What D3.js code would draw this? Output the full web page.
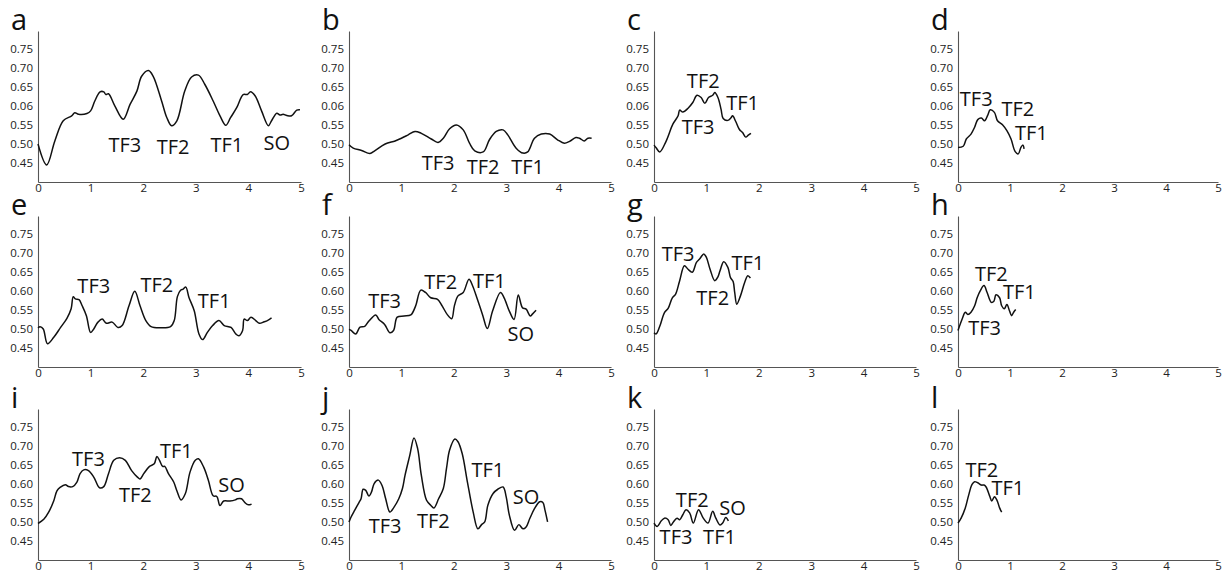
<!DOCTYPE html>
<html>
<head>
<meta charset="utf-8">
<script src="https://cdn.jsdelivr.net/npm/d3@7"></script>
<style>
  body { margin: 0; background: #fff; }
  svg { display: block; }
  text { font-family: "Open Sans", sans-serif; }
</style>
</head>
<body>
<div class="canvas"></div>
<script>
const letters = ["a", "b", "c", "d", "e", "f", "g", "h", "i", "j", "k", "l"];
const yTicks = [0.45, 0.5, 0.55, 0.6, 0.65, 0.7, 0.75];
const yTickLabelsTop = ["0.45", "0.50", "0.55", "0.06", "0.65", "0.70", "0.75"];
const yTickLabels = ["0.45", "0.50", "0.55", "0.60", "0.65", "0.70", "0.75"];
const xTicks = [0, 1, 2, 3, 4, 5];

// [time, value]
const a = [[0,0.50],[0.165,0.445],[0.32,0.508],[0.48,0.561],[0.64,0.574],[0.70,0.582],[0.77,0.578],[0.93,0.580],[1.0,0.587],[1.08,0.613],[1.18,0.637],[1.25,0.637],[1.29,0.630],[1.34,0.632],[1.46,0.600],[1.62,0.565],[1.75,0.604],[1.88,0.639],[1.97,0.678],[2.10,0.693],[2.19,0.678],[2.35,0.613],[2.45,0.569],[2.54,0.548],[2.64,0.561],[2.79,0.639],[2.92,0.676],[3.05,0.681],[3.17,0.657],[3.33,0.613],[3.46,0.574],[3.57,0.549],[3.66,0.569],[3.78,0.596],[3.90,0.630],[3.98,0.630],[4.04,0.637],[4.13,0.626],[4.25,0.587],[4.38,0.548],[4.44,0.561],[4.54,0.581],[4.60,0.576],[4.66,0.578],[4.73,0.575],[4.82,0.574],[4.92,0.589],[4.98,0.590]];
const b = [[0,0.498],[0.08,0.489],[0.24,0.483],[0.40,0.475],[0.49,0.482],[0.69,0.500],[0.88,0.508],[1.0,0.515],[1.13,0.524],[1.26,0.533],[1.38,0.528],[1.57,0.513],[1.70,0.504],[1.80,0.515],[1.92,0.540],[2.05,0.550],[2.18,0.537],[2.30,0.502],[2.40,0.482],[2.56,0.479],[2.68,0.511],[2.81,0.533],[2.94,0.537],[3.03,0.524],[3.19,0.489],[3.32,0.476],[3.41,0.479],[3.54,0.515],[3.67,0.526],[3.83,0.526],[3.98,0.511],[4.11,0.502],[4.21,0.507],[4.33,0.517],[4.40,0.515],[4.49,0.508],[4.56,0.515],[4.63,0.515]];
const c = [[0,0.497],[0.04,0.490],[0.11,0.479],[0.23,0.507],[0.36,0.552],[0.46,0.574],[0.49,0.589],[0.55,0.584],[0.65,0.594],[0.74,0.609],[0.82,0.628],[0.90,0.622],[0.97,0.607],[1.04,0.622],[1.12,0.628],[1.16,0.635],[1.22,0.622],[1.28,0.591],[1.32,0.567],[1.41,0.562],[1.47,0.569],[1.50,0.574],[1.56,0.559],[1.63,0.538],[1.69,0.530],[1.75,0.518],[1.80,0.523],[1.85,0.528]];
const d = [[0,0.491],[0.10,0.494],[0.16,0.513],[0.25,0.526],[0.32,0.544],[0.38,0.564],[0.45,0.568],[0.51,0.561],[0.57,0.575],[0.62,0.590],[0.70,0.583],[0.76,0.561],[0.86,0.550],[0.94,0.535],[1.02,0.513],[1.10,0.480],[1.16,0.474],[1.21,0.491],[1.25,0.497],[1.27,0.487]];
const e = [[0,0.503],[0.04,0.506],[0.10,0.500],[0.18,0.461],[0.30,0.478],[0.43,0.504],[0.55,0.528],[0.63,0.553],[0.67,0.585],[0.71,0.579],[0.78,0.577],[0.84,0.561],[0.92,0.535],[1.0,0.491],[1.06,0.500],[1.14,0.518],[1.22,0.526],[1.30,0.515],[1.41,0.518],[1.52,0.504],[1.60,0.509],[1.73,0.561],[1.84,0.599],[1.94,0.561],[2.05,0.522],[2.15,0.506],[2.33,0.503],[2.52,0.506],[2.59,0.522],[2.65,0.585],[2.71,0.602],[2.76,0.605],[2.81,0.610],[2.87,0.583],[2.97,0.548],[3.06,0.487],[3.13,0.472],[3.22,0.491],[3.32,0.509],[3.44,0.522],[3.54,0.509],[3.67,0.504],[3.76,0.487],[3.82,0.482],[3.89,0.496],[3.92,0.526],[3.98,0.522],[4.05,0.531],[4.14,0.522],[4.21,0.515],[4.30,0.519],[4.36,0.522],[4.44,0.529]];
const f = [[0,0.499],[0.04,0.496],[0.13,0.487],[0.21,0.505],[0.30,0.507],[0.38,0.521],[0.51,0.537],[0.57,0.525],[0.68,0.512],[0.78,0.490],[0.85,0.496],[0.92,0.531],[1.05,0.534],[1.18,0.537],[1.27,0.560],[1.37,0.602],[1.46,0.596],[1.56,0.582],[1.69,0.578],[1.78,0.560],[1.88,0.537],[1.96,0.527],[2.01,0.560],[2.08,0.587],[2.18,0.596],[2.29,0.631],[2.36,0.613],[2.45,0.578],[2.55,0.537],[2.64,0.501],[2.74,0.547],[2.89,0.596],[2.96,0.582],[3.06,0.547],[3.15,0.525],[3.23,0.589],[3.31,0.556],[3.38,0.552],[3.46,0.534],[3.50,0.539],[3.57,0.549]];
const g = [[0,0.490],[0.04,0.487],[0.11,0.507],[0.20,0.543],[0.27,0.554],[0.35,0.582],[0.41,0.591],[0.49,0.627],[0.58,0.666],[0.65,0.657],[0.73,0.649],[0.81,0.675],[0.87,0.684],[0.95,0.697],[1.0,0.688],[1.07,0.657],[1.16,0.627],[1.22,0.637],[1.26,0.653],[1.33,0.677],[1.41,0.662],[1.46,0.635],[1.51,0.625],[1.54,0.596],[1.58,0.565],[1.65,0.587],[1.73,0.622],[1.79,0.640],[1.84,0.634]];
const h = [[0,0.496],[0.08,0.526],[0.14,0.544],[0.19,0.538],[0.25,0.544],[0.32,0.561],[0.37,0.583],[0.43,0.601],[0.50,0.614],[0.56,0.596],[0.64,0.570],[0.69,0.573],[0.73,0.590],[0.80,0.582],[0.84,0.561],[0.89,0.553],[0.94,0.564],[0.99,0.548],[1.03,0.535],[1.07,0.544],[1.11,0.551]];
const i = [[0,0.496],[0.11,0.507],[0.20,0.525],[0.30,0.556],[0.36,0.582],[0.42,0.591],[0.52,0.598],[0.58,0.593],[0.66,0.593],[0.74,0.605],[0.80,0.627],[0.87,0.637],[0.96,0.635],[1.06,0.618],[1.17,0.590],[1.25,0.593],[1.34,0.627],[1.44,0.662],[1.55,0.669],[1.66,0.662],[1.78,0.635],[1.89,0.618],[1.94,0.613],[2.01,0.627],[2.12,0.646],[2.21,0.653],[2.26,0.672],[2.31,0.662],[2.37,0.646],[2.41,0.646],[2.48,0.627],[2.58,0.605],[2.64,0.582],[2.72,0.558],[2.80,0.574],[2.89,0.631],[2.99,0.662],[3.05,0.666],[3.15,0.644],[3.24,0.609],[3.33,0.569],[3.40,0.567],[3.46,0.543],[3.53,0.555],[3.65,0.555],[3.75,0.558],[3.79,0.561],[3.87,0.561],[3.94,0.550],[4.00,0.545],[4.06,0.547]];
const j = [[0,0.500],[0.04,0.513],[0.11,0.531],[0.19,0.551],[0.23,0.561],[0.27,0.586],[0.32,0.583],[0.38,0.568],[0.43,0.579],[0.48,0.601],[0.56,0.610],[0.63,0.596],[0.70,0.561],[0.78,0.526],[0.86,0.539],[0.95,0.561],[1.02,0.588],[1.07,0.623],[1.16,0.675],[1.24,0.721],[1.31,0.693],[1.38,0.623],[1.48,0.557],[1.56,0.544],[1.62,0.537],[1.71,0.561],[1.80,0.588],[1.86,0.640],[1.92,0.689],[2.02,0.718],[2.08,0.711],[2.16,0.680],[2.26,0.605],[2.37,0.526],[2.46,0.482],[2.53,0.493],[2.59,0.500],[2.65,0.544],[2.75,0.575],[2.84,0.586],[2.94,0.592],[3.00,0.566],[3.06,0.518],[3.16,0.478],[3.24,0.493],[3.32,0.482],[3.38,0.487],[3.45,0.509],[3.54,0.535],[3.64,0.553],[3.70,0.551],[3.74,0.531],[3.79,0.500]];
const k = [[0,0.497],[0.06,0.488],[0.14,0.503],[0.20,0.510],[0.27,0.506],[0.32,0.491],[0.37,0.500],[0.44,0.510],[0.49,0.506],[0.55,0.519],[0.61,0.532],[0.68,0.524],[0.75,0.497],[0.85,0.532],[0.94,0.510],[1.03,0.497],[1.12,0.528],[1.18,0.510],[1.26,0.492],[1.31,0.497],[1.37,0.512],[1.42,0.503]];
const l = [[0,0.497],[0.06,0.510],[0.14,0.537],[0.20,0.568],[0.27,0.599],[0.32,0.606],[0.38,0.603],[0.45,0.597],[0.50,0.597],[0.54,0.592],[0.61,0.568],[0.65,0.555],[0.70,0.566],[0.75,0.557],[0.80,0.537],[0.84,0.526]];

// annotation text placed at [time, value] (centre of the word)
const aNotes = [["TF3",1.65,0.498],["TF2",2.57,0.493],["TF1",3.59,0.498],["SO",4.54,0.504]];
const bNotes = [["TF3",1.70,0.450],["TF2",2.56,0.441],["TF1",3.41,0.441]];
const cNotes = [["TF2",0.94,0.666],["TF1",1.69,0.609],["TF3",0.84,0.545]];
const dNotes = [["TF3",0.35,0.618],["TF2",1.15,0.592],["TF1",1.41,0.529]];
const eNotes = [["TF3",1.06,0.614],["TF2",2.26,0.617],["TF1",3.35,0.575]];
const fNotes = [["TF3",0.68,0.574],["TF2",1.75,0.624],["TF1",2.68,0.627],["SO",3.28,0.488]];
const gNotes = [["TF3",0.46,0.697],["TF2",1.12,0.582],["TF1",1.79,0.675]];
const hNotes = [["TF2",0.64,0.645],["TF1",1.18,0.597],["TF3",0.51,0.503]];
const iNotes = [["TF3",0.96,0.666],["TF2",1.85,0.571],["TF1",2.63,0.688],["SO",3.68,0.598]];
const jNotes = [["TF3",0.69,0.489],["TF2",1.61,0.502],["TF1",2.65,0.636],["SO",3.38,0.566]];
const kNotes = [["TF2",0.73,0.557],["SO",1.50,0.537],["TF3",0.42,0.460],["TF1",1.25,0.460]];
const lNotes = [["TF2",0.46,0.636],["TF1",0.96,0.589]];

const series = [a, b, c, d, e, f, g, h, i, j, k, l];
const notes = [aNotes, bNotes, cNotes, dNotes, eNotes, fNotes, gNotes, hNotes, iNotes, jNotes, kNotes, lNotes];

// panel frame positions (axis origin and x=5 end, x-axis baseline per row)
const colX0 = [38, 349, 654, 958];
const colX5 = [301, 611, 916, 1218];
const rowBase = [182, 367, 560];
const plotH = 151;

const svg = d3.select(".canvas").append("svg")
  .attr("width", 1232)
  .attr("height", 575);

svg.append("rect").attr("width", 1232).attr("height", 575).attr("fill", "#fff");

series.forEach((data, idx) => {
  let col = idx % 4;
  let row = Math.floor(idx / 4);
  let base = rowBase[row];
  let top = base - plotH;

  let xScale = d3.scaleLinear().domain([0, 5]).range([colX0[col], colX5[col]]);
  let yScale = d3.scaleLinear().domain([0.4, 0.797]).range([base, top]);

  let g = svg.append("g");

  let labels = row === 0 ? yTickLabelsTop : yTickLabels;
  let yAxis = d3.axisLeft(yScale)
    .tickValues(yTicks)
    .tickSize(0)
    .tickPadding(5)
    .tickFormat((v, n) => labels[n]);
  let xAxis = d3.axisBottom(xScale)
    .tickValues(xTicks)
    .tickSize(0)
    .tickPadding(2)
    .tickFormat(d3.format("d"));

  let ya = g.append("g")
    .attr("transform", `translate(${colX0[col]},0)`)
    .call(yAxis);
  let xa = g.append("g")
    .attr("transform", `translate(0,${base})`)
    .call(xAxis);

  [ya, xa].forEach((ax) => {
    ax.select(".domain").attr("stroke", "#555").attr("stroke-width", 1.1);
    ax.selectAll("text")
      .attr("fill", "#222")
      .style("font-size", "11.5px")
      .style("font-family", "'Open Sans', sans-serif");
  });

  g.append("path")
    .datum(data)
    .attr("fill", "none")
    .attr("stroke", "#111")
    .attr("stroke-width", 1.5)
    .attr("stroke-linejoin", "round")
    .attr("d", d3.line()
      .x((p) => xScale(p[0]))
      .y((p) => yScale(p[1]))
      .curve(d3.curveCatmullRom.alpha(0.5)));

  g.selectAll(".note")
    .data(notes[idx])
    .enter()
    .append("text")
    .attr("class", "note")
    .attr("x", (n) => xScale(n[1]))
    .attr("y", (n) => yScale(n[2]))
    .attr("dy", "0.36em")
    .attr("text-anchor", "middle")
    .attr("fill", "#111")
    .style("font-size", "20px")
    .text((n) => n[0]);

  g.append("text")
    .attr("x", colX0[col] - 27)
    .attr("y", top - 1)
    .attr("fill", "#111")
    .style("font-size", "29px")
    .text(letters[idx]);
});
</script>
</body>
</html>
